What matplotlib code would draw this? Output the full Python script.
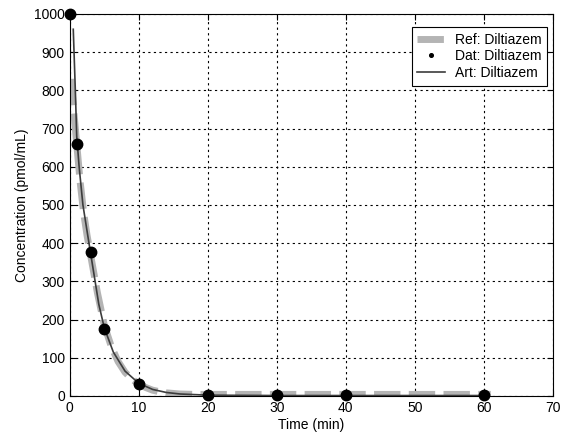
import matplotlib
matplotlib.use('Agg')
import matplotlib.pyplot as plt

plt.rcParams['font.family'] = ['Liberation Sans', 'DejaVu Sans']

# reference model curve
t_ref = [0.2, 0.5, 1, 1.5, 2, 2.5, 3, 4, 5, 6, 7, 8, 9, 10, 11, 12, 13, 14, 16, 18, 20, 25, 30, 40, 50, 61]
c_ref = [830, 760, 660, 560, 480, 420, 370, 270, 185, 130, 90, 62, 44, 31, 22, 15, 11, 8, 5, 4, 4, 4, 4, 4, 4, 4]

# measured data
t_dat = [0, 1, 3, 5, 10, 20, 30, 40, 60]
c_dat = [1000, 660, 378, 175, 30, 3, 2, 2, 2]

# artificial model curve
t_art = [0.5, 0.8, 1, 1.35, 1.9, 2.6, 3, 3.4, 4.2, 5, 6.3, 8, 10, 12, 14, 16, 20, 30, 40, 60]
c_art = [960, 800, 680, 600, 500, 420, 375, 330, 240, 178, 115, 65, 33, 17, 9, 5, 2, 1, 1, 1]

fig = plt.figure(figsize=(5.63, 4.37), dpi=100)
ax = fig.add_axes([0.124, 0.094, 0.858, 0.874])

ax.plot(t_ref, c_ref, color='#b4b4b4', lw=5, dashes=(3.8, 1.2), label='Ref: Diltiazem', zorder=2)
ax.plot(t_dat, c_dat, 'o', color='black', ms=7.5, label='Dat: Diltiazem', zorder=4, clip_on=False)
ax.plot(t_art, c_art, color='#3c3c3c', lw=1.2, label='Art: Diltiazem', zorder=3)

ax.set_xlim(0, 70)
ax.set_ylim(0, 1000)
ax.set_xticks(range(0, 71, 10))
ax.set_yticks(range(0, 1001, 100))
ax.grid(True, color='black', linestyle=(0, (2, 3)), lw=0.8)
ax.tick_params(direction='in', top=True, right=True, labelsize=10, length=4)
for s in ax.spines.values():
    s.set_linewidth(0.8)

ax.set_xlabel('Time (min)', fontsize=10, labelpad=2)
ax.set_ylabel('Concentration (pmol/mL)', fontsize=10, labelpad=4)

leg = ax.legend(loc='upper right', bbox_to_anchor=(0.988, 0.966), borderaxespad=0,
                fontsize=10, markerscale=0.35, fancybox=False, framealpha=1,
                edgecolor='black', handlelength=2.0, handletextpad=0.7,
                labelspacing=0.2, borderpad=0.4)
leg.get_frame().set_linewidth(0.8)

fig.savefig('out.png', dpi=100)
